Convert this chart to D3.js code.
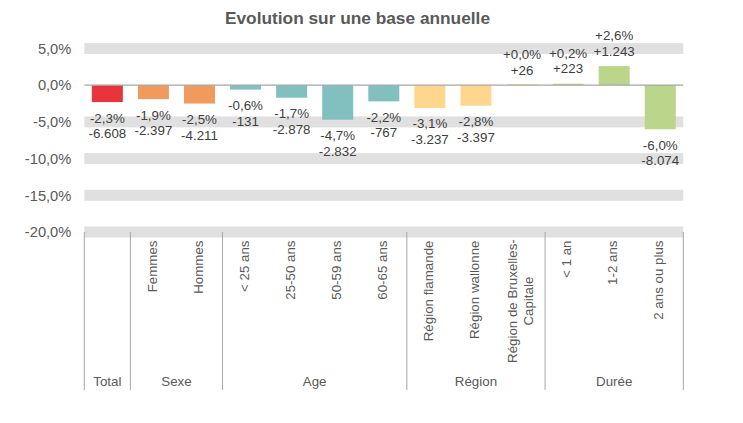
<!DOCTYPE html>
<html>
<head>
<meta charset="utf-8">
<script src="https://d3js.org/d3.v7.min.js"></script>
<style>
  body { margin: 0; background: #fff; }
  svg { display: block; font-family: "Liberation Sans", Arial, sans-serif; }
</style>
</head>
<body>
<div id="grafico"></div>
<script>
// Données du graphique
var categories = ["", "Femmes", "Hommes", "< 25 ans", "25-50 ans", "50-59 ans", "60-65 ans",
  "Région flamande", "Région wallonne", "Région de Bruxelles-Capitale", "< 1 an", "1-2 ans", "2 ans ou plus"];
var groupes = ["Total", "Sexe", "Sexe", "Age", "Age", "Age", "Age",
  "Région", "Région", "Région", "Durée", "Durée", "Durée"];
var evolutionPct = [-2.3, -1.9, -2.5, -0.6, -1.7, -4.7, -2.2, -3.1, -2.8, 0.04, 0.2, 2.6, -6.0];
var evolutionNb = [-6608, -2397, -4211, -131, -2878, -2832, -767, -3237, -3397, 26, 223, 1243, -8074];
var yTicks = [5, 0, -5, -10, -15, -20];
var couleurs = { "Total": "#e8343a", "Sexe": "#f19a5e", "Age": "#82bfbf", "Région": "#fed68e", "Durée": "#bbd58b" };

var width = 743, height = 423;
var left = 84.3, right = 683.3;

var svg = d3.select("#grafico").append("svg")
  .attr("width", width)
  .attr("height", height);

// Titre
svg.append("text")
  .attr("x", 357.5)
  .attr("y", 23.5)
  .attr("text-anchor", "middle")
  .attr("font-size", "17.3px")
  .attr("font-weight", "bold")
  .attr("fill", "#595959")
  .text("Evolution sur une base annuelle");

var idx = d3.range(categories.length);
var x = d3.scaleBand().domain(idx).range([left, right]).paddingInner(0.327).paddingOuter(0.1635);
var y = d3.scaleLinear().domain([-20, 5]).range([232, 48.5]);
var step = x.step();

// Bandes horizontales (grille)
svg.selectAll(".grid")
  .data(yTicks.filter(function(t) { return t !== 0; }))
  .enter().append("rect")
  .attr("x", left)
  .attr("width", right - left)
  .attr("y", function(d) { return y(d) - 5.5; })
  .attr("height", 11)
  .attr("fill", "#e0e0e0");

// Axe Y
var fmtPct = function(v) { return v.toFixed(1).replace(".", ",") + "%"; };
var yAxis = svg.append("g")
  .attr("transform", "translate(" + (left - 13) + ",0)")
  .call(d3.axisLeft(y).tickValues(yTicks).tickSize(0).tickFormat(fmtPct));
yAxis.select(".domain").remove();
yAxis.selectAll("text")
  .attr("x", 0)
  .attr("font-size", "14.67px")
  .attr("font-family", "Liberation Sans, Arial, sans-serif")
  .attr("fill", "#595959");

// Barres
svg.selectAll(".bar")
  .data(idx)
  .enter().append("rect")
  .attr("class", "bar")
  .attr("x", function(i) { return x(i); })
  .attr("width", x.bandwidth())
  .attr("y", function(i) { return evolutionPct[i] >= 0 ? Math.min(y(evolutionPct[i]), y(0) - 1) : y(0); })
  .attr("height", function(i) { return Math.max(1, Math.abs(y(evolutionPct[i]) - y(0))); })
  .attr("fill", function(i) { return couleurs[groupes[i]]; });

// Ligne du zéro
svg.append("line")
  .attr("x1", left).attr("x2", right)
  .attr("y1", y(0)).attr("y2", y(0))
  .attr("stroke", "#a6a6a6")
  .attr("stroke-width", 1.2);

// Étiquettes de données
function signe(v) { return v >= 0 ? "+" : "-"; }
function fmtNb(v) { return signe(v) + d3.format(",")(Math.abs(v)).replace(/,/g, "."); }
var etiquettes = svg.selectAll(".lbl")
  .data(idx)
  .enter().append("text")
  .attr("text-anchor", "middle")
  .attr("font-size", "13.33px")
  .attr("fill", "#404040")
  .attr("x", function(i) { return x(i) + x.bandwidth() / 2; })
  .attr("y", function(i) {
    var v = evolutionPct[i];
    return v >= 0 ? y(v) - 26 : y(v) + 20.5;
  });
etiquettes.append("tspan")
  .text(function(i) { return signe(evolutionPct[i]) + fmtPct(Math.abs(evolutionPct[i])); });
etiquettes.append("tspan")
  .attr("x", function(i) { return x(i) + x.bandwidth() / 2; })
  .attr("dy", 15.6)
  .text(function(i) { return fmtNb(evolutionNb[i]); });

// Axe des catégories (deux niveaux)
var axeTop = 232, axeBas = 390;
var grp = [];
groupes.forEach(function(g, i) {
  if (grp.length && grp[grp.length - 1].nom === g) grp[grp.length - 1].fin = i;
  else grp.push({ nom: g, debut: i, fin: i });
});
var bords = [0].concat(grp.map(function(g) { return g.fin + 1; }));
svg.selectAll(".sep")
  .data(bords)
  .enter().append("line")
  .attr("x1", function(b) { return left + b * step; })
  .attr("x2", function(b) { return left + b * step; })
  .attr("y1", axeTop)
  .attr("y2", axeBas)
  .attr("stroke", "#a6a6a6")
  .attr("stroke-width", 1);

svg.selectAll(".grp")
  .data(grp)
  .enter().append("text")
  .attr("x", function(g) { return left + (g.debut + g.fin + 1) / 2 * step; })
  .attr("y", 386)
  .attr("text-anchor", "middle")
  .attr("font-size", "13.33px")
  .attr("fill", "#595959")
  .text(function(g) { return g.nom; });

// Libellés verticaux
idx.forEach(function(i) {
  if (!categories[i]) return;
  var lignes = categories[i].length > 20 ? [categories[i].slice(0, 20), categories[i].slice(20)] : [categories[i]];
  var cx = x(i) + x.bandwidth() / 2 - 1.5;
  var g = svg.append("g");
  var t = g.append("text")
    .attr("font-size", "13.33px")
    .attr("fill", "#595959")
    .attr("text-anchor", "middle");
  lignes.forEach(function(l, k) {
    t.append("tspan").attr("x", 0).attr("y", (k - (lignes.length - 1) / 2) * 16 + 4.7).text(l);
  });
  var longueur = d3.max(t.selectAll("tspan").nodes(), function(n) { return n.getComputedTextLength(); });
  var haut = Math.max(233, Math.min(240.5, 363 - longueur));
  g.attr("transform", "translate(" + cx + "," + (haut + longueur / 2) + ") rotate(-90)");
});
</script>
</body>
</html>
